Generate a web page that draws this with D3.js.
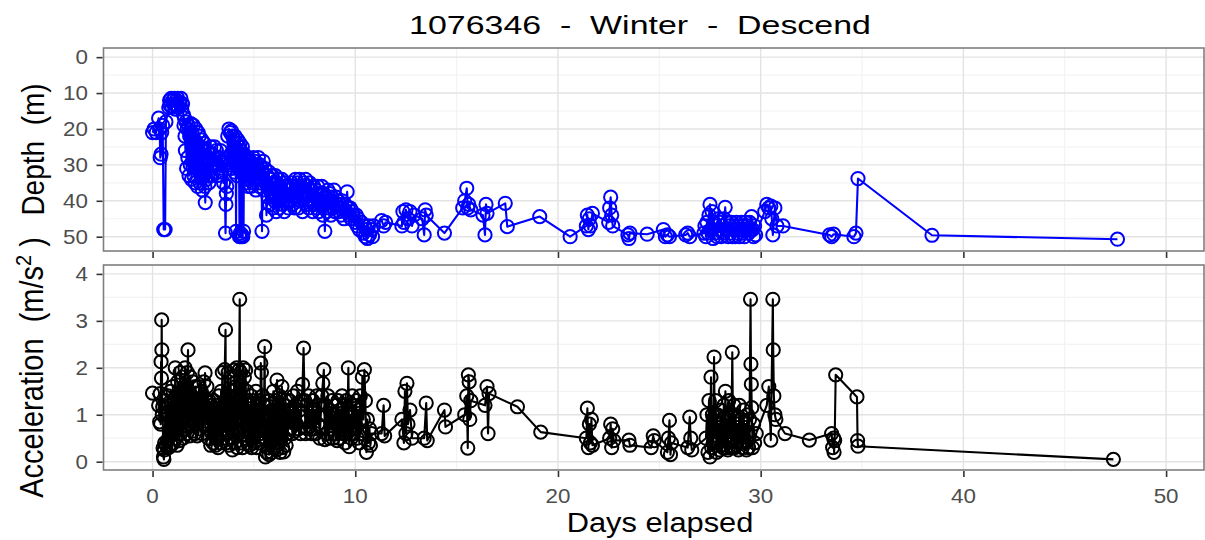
<!DOCTYPE html>
<html>
<head>
<meta charset="utf-8">
<script src="https://cdn.jsdelivr.net/npm/d3@7"></script>
<style>
  body { margin: 0; background: #fff; }
  svg { display: block; }
  text { font-family: "Liberation Sans", Arial, Helvetica, sans-serif; white-space: pre; }
</style>
</head>
<body>
<svg id="chart" width="1205" height="540"></svg>
<script>
// ---- labels and ticks ----
const titleText = "1076346  -  Winter  -  Descend";
const xTitle = "Days elapsed";
const depthTitle = "Depth  (m)";
const xTicks = [0, 10, 20, 30, 40, 50];
const xMinor = [5, 15, 25, 35, 45];
const depthTicks = [0, 10, 20, 30, 40, 50];
const depthMinor = [5, 15, 25, 35, 45];
const accelTicks = [0, 1, 2, 3, 4];
const accelMinor = [0.5, 1.5, 2.5, 3.5];

// ---- depth of each descent (m) ----
const depthDays = [
  0.00, 0.08, 0.18, 0.30, 0.35, 0.38, 0.42, 0.45, 0.50, 0.55, 0.62, 0.66,
  0.80, 0.84, 0.88, 0.92, 0.96, 1.00, 1.04, 1.08, 1.12, 1.16, 1.20, 1.24,
  1.28, 1.32, 1.36, 1.40, 1.44, 1.48, 1.52, 1.55, 1.58, 1.60,
  1.62, 1.65, 1.68, 1.71, 1.74, 1.77, 1.80, 1.83, 1.86, 1.89, 1.92, 1.95,
  1.98, 2.01, 2.04, 2.07, 2.10, 2.13, 2.16, 2.19, 2.22, 2.25, 2.28, 2.31,
  2.34, 2.37, 2.40, 2.43, 2.46, 2.49, 2.52, 2.55, 2.58, 2.60, 2.63, 2.66,
  2.69, 2.72, 2.75, 2.78, 2.81, 2.84, 2.87, 2.90,
  2.95, 3.00, 3.05, 3.10, 3.15, 3.20, 3.25, 3.30, 3.35, 3.40,
  3.45, 3.50, 3.55, 3.60, 3.62, 3.64, 3.66,
  3.68, 3.71, 3.74, 3.77, 3.80, 3.83, 3.86, 3.89, 3.92, 3.95, 3.98, 4.01,
  4.04, 4.07, 4.10, 4.12, 4.14, 4.17, 4.20, 4.23, 4.26, 4.29, 4.31, 4.33,
  4.35, 4.37, 4.39, 4.41, 4.43, 4.45, 4.47, 4.49, 4.51, 4.54, 4.57, 4.60,
  4.63, 4.66, 4.69, 4.72, 4.75, 4.78,
  4.82, 4.86, 4.90, 4.94, 4.98, 5.02, 5.06, 5.10, 5.14, 5.18, 5.22, 5.26,
  5.30, 5.34, 5.38, 5.40, 5.42, 5.46, 5.50, 5.54, 5.58, 5.62,
  5.66, 5.70, 5.74, 5.78, 5.82, 5.86, 5.90, 5.94, 5.98, 6.02, 6.06, 6.10,
  6.14, 6.18, 6.22, 6.26, 6.30, 6.34, 6.38, 6.42, 6.46, 6.50, 6.55, 6.60,
  6.65, 6.70, 6.75, 6.80, 6.85, 6.90,
  6.95, 7.00, 7.05, 7.10, 7.15, 7.20, 7.25, 7.30, 7.35, 7.40, 7.45, 7.50,
  7.55, 7.60, 7.65, 7.70, 7.75, 7.80, 7.85, 7.90, 7.95, 8.00,
  8.05, 8.10, 8.15, 8.20, 8.25, 8.30, 8.35, 8.40, 8.45, 8.50, 8.55, 8.60,
  8.65, 8.70, 8.75, 8.80, 8.85, 8.90, 8.95, 9.00, 9.05, 9.10,
  9.15, 9.20, 9.25, 9.30, 9.35, 9.40, 9.45, 9.50, 9.55, 9.60, 9.65, 9.70,
  9.75, 9.80, 9.85, 9.90, 10.00, 10.05, 10.10, 10.15, 10.20, 10.30, 10.40, 10.45,
  10.50, 10.55, 10.60, 10.65, 10.70, 10.80, 10.85, 10.90,
  11.30, 11.40, 11.50,
  12.30, 12.35, 12.40, 12.50, 12.60, 12.70, 12.80, 12.90,
  13.30, 13.40, 13.45, 13.50,
  14.40,
  15.30, 15.40, 15.50, 15.55, 15.60, 15.70,
  16.30, 16.40, 16.45, 16.50,
  17.40, 17.50,
  19.10,
  20.60,
  21.40, 21.45, 21.50, 21.55, 21.60, 21.70,
  22.50, 22.55, 22.60, 22.65, 22.70,
  23.45, 23.50, 23.55,
  24.40,
  25.20, 25.30, 25.40, 25.50,
  26.30, 26.40, 26.50,
  27.20, 27.25, 27.30, 27.35, 27.40, 27.45, 27.50, 27.55, 27.60, 27.65, 27.70, 27.75,
  27.80, 27.85, 27.90, 27.95, 28.00, 28.05, 28.10, 28.15, 28.20, 28.25, 28.30, 28.35,
  28.40, 28.45, 28.50, 28.55, 28.60, 28.65, 28.70, 28.75, 28.80, 28.85, 28.90, 28.95,
  29.00, 29.05, 29.10, 29.15, 29.20, 29.25, 29.30, 29.35, 29.40, 29.45, 29.50, 29.55,
  29.60, 29.65, 29.70, 29.75,
  30.20, 30.30, 30.40, 30.50, 30.55, 30.60, 30.70, 30.80, 31.10,
  33.40, 33.50, 33.60,
  34.60, 34.70, 34.80,
  38.45, 47.60
];
const depthMeters = [
  21, 20, 21, 17, 20, 28, 27, 21, 19, 48, 48, 18,
  14, 12, 13.5, 11.5, 14, 12, 13, 11.5, 14.5, 12, 13.5, 11.5,
  14, 12.5, 13, 11.5, 14.5, 13, 16, 19, 17, 22,
  26, 18, 31, 20, 28, 19, 33, 22, 30, 18.5, 34, 21,
  29, 19, 33, 23, 35, 20, 31, 24, 36, 21, 30, 22,
  35, 25, 33, 23, 37, 26, 32, 24, 36, 40.5, 29, 34,
  26, 33, 28, 35, 27, 31, 25, 33,
  27, 32, 25, 30, 26, 33, 28, 31, 26, 32,
  29, 35, 30, 49, 41, 38, 36,
  31, 22, 28, 20, 30, 21, 27, 20.5, 31, 22, 29, 23,
  32, 22, 30, 48.5, 24, 33, 23, 31, 25, 50, 24, 49,
  26, 50, 27, 49.5, 25, 50, 28, 48.5, 27, 33, 28, 35,
  29, 34, 28, 36, 30, 33,
  29, 36, 30, 35, 28, 34, 29, 37, 30, 33, 28, 36,
  30, 35, 31, 48.5, 32, 29, 37, 31, 35, 44,
  33, 39, 32, 41, 34, 38, 33, 42, 35, 40, 33, 43,
  35, 40, 34, 42, 36, 39, 34, 41, 36, 43, 35, 40,
  36, 42, 37, 40, 35, 41,
  36, 42, 34, 39, 35, 42, 34, 40, 36, 43, 35, 38,
  34, 41, 36, 42, 35, 40, 37, 43, 36, 41,
  37, 42, 36, 43, 38, 41, 36, 44, 38, 48.5, 39, 43,
  37, 42, 38, 44, 39, 42, 37, 43, 39, 41,
  40, 43, 41, 44, 40, 42, 45, 41, 43, 37.5, 42, 44,
  42, 45, 43, 44, 46, 44, 47, 45, 48, 46, 49, 47,
  50, 48, 50.5, 47, 49.5, 48, 50, 47,
  45.5, 47, 46,
  47, 43, 46, 42.5, 45, 43, 47, 44,
  45, 49.5, 42.5, 44,
  49,
  42, 40, 36.5, 42, 41, 42.5,
  44, 49.5, 41, 43.5,
  40.7, 47.2,
  44.4,
  50,
  47, 44, 48, 45, 47, 43.5,
  46, 42, 39, 44, 47,
  49.5, 50.5, 49,
  49.3,
  48, 50, 49.5, 50,
  49.5, 49, 50,
  49, 47, 50, 46, 49, 44, 41, 48, 43, 50.5, 46, 49,
  47, 50, 45, 48, 46, 50, 47, 49, 45, 41.8, 48, 46,
  50, 47, 49, 46, 50, 48, 47, 50, 46, 49, 47, 50,
  48, 46, 49, 47, 50, 46, 48, 47, 49, 46, 48, 44.4,
  48, 50, 47, 49.5,
  43, 41, 42, 41.5, 45, 49.5, 42, 47, 47,
  49.5, 50, 49.3,
  50, 49, 33.8,
  49.6, 50.7
];

// ---- peak acceleration of each descent (m/s^2) ----
const accelDays = [
  0.00, 0.30, 0.35, 0.38, 0.40, 0.42, 0.44, 0.45, 0.46, 0.48, 0.50, 0.52, 0.54, 0.56, 0.58, 0.60,
  0.64, 0.67, 0.70, 0.73, 0.76, 0.79, 0.82, 0.85, 0.88, 0.91, 0.94, 0.97,
  1.00, 1.03, 1.06, 1.09, 1.12, 1.15, 1.18, 1.21, 1.24, 1.27, 1.30, 1.33,
  1.36, 1.39, 1.42, 1.45, 1.48, 1.51, 1.54, 1.57, 1.60, 1.63, 1.66, 1.69,
  1.72, 1.75, 1.78, 1.81, 1.84, 1.87, 1.90, 1.93, 1.96, 1.99, 2.02, 2.05,
  2.08, 2.11, 2.14, 2.17, 2.20, 2.23, 2.26, 2.29, 2.32, 2.35, 2.38, 2.41,
  2.44, 2.47, 2.50, 2.53, 2.56, 2.59, 2.62, 2.65, 2.68, 2.71,
  2.75, 2.78, 2.81, 2.84, 2.87, 2.90, 2.93, 2.96, 2.99, 3.02, 3.05, 3.08,
  3.11, 3.14, 3.17, 3.20, 3.23, 3.26, 3.29, 3.32, 3.35, 3.38, 3.41, 3.44,
  3.47, 3.50, 3.53, 3.56, 3.60, 3.62, 3.64, 3.67,
  3.70, 3.73, 3.76, 3.79, 3.82, 3.85, 3.88, 3.91, 3.94, 3.97, 4.00, 4.03,
  4.06, 4.09, 4.12, 4.15, 4.18, 4.21, 4.24, 4.27, 4.30, 4.32, 4.35, 4.38,
  4.41, 4.44, 4.47, 4.50, 4.53, 4.56, 4.59, 4.62, 4.65, 4.68, 4.71, 4.74,
  4.77, 4.80, 4.83, 4.86, 4.89, 4.92, 4.95, 4.98, 5.01, 5.04, 5.07, 5.10,
  5.13, 5.16, 5.19, 5.22, 5.25, 5.28, 5.31, 5.34, 5.37, 5.40, 5.43, 5.46,
  5.50, 5.53, 5.55, 5.57, 5.60, 5.63,
  5.66, 5.69, 5.72, 5.75, 5.78, 5.81, 5.84, 5.87, 5.90, 5.93, 5.96, 5.99,
  6.02, 6.05, 6.08, 6.11, 6.14, 6.17, 6.20, 6.23, 6.26, 6.29, 6.32, 6.35,
  6.38, 6.41, 6.44, 6.47, 6.50, 6.53, 6.56, 6.59, 6.62, 6.65, 6.68, 6.71,
  6.75, 6.80, 6.85, 6.90, 6.95, 7.00, 7.05, 7.10, 7.15, 7.20, 7.25, 7.30,
  7.35, 7.40, 7.45, 7.50, 7.55, 7.60, 7.65, 7.70, 7.75, 7.80, 7.85, 7.90,
  7.95, 8.00, 8.05, 8.10, 8.15, 8.20, 8.25, 8.30,
  8.35, 8.40, 8.45, 8.50, 8.55, 8.60, 8.65, 8.70, 8.75, 8.80, 8.85, 8.90,
  8.95, 9.00, 9.05, 9.10, 9.15, 9.20, 9.25, 9.30, 9.35, 9.40,
  9.45, 9.50, 9.55, 9.60, 9.66, 9.70, 9.75, 9.80, 9.85, 9.90, 9.95, 10.00,
  10.05, 10.10, 10.15, 10.20, 10.25, 10.30, 10.35, 10.40, 10.45, 10.50, 10.55, 10.60,
  10.65, 10.70, 10.75, 10.80,
  11.30, 11.40, 11.45,
  12.30, 12.40, 12.45, 12.50, 12.55, 12.60, 12.70, 12.80,
  13.40, 13.50, 13.55,
  14.40, 14.45,
  15.40, 15.50, 15.55, 15.58, 15.62, 15.65, 15.70,
  16.40, 16.50, 16.55, 16.60,
  18.00, 19.15,
  21.40, 21.45, 21.50, 21.55, 21.60, 21.65, 21.70,
  22.55, 22.60, 22.65, 22.70, 22.75,
  23.50, 23.55,
  24.60, 24.70, 24.75,
  25.40, 25.45, 25.50, 25.55, 25.60,
  26.40, 26.50, 26.55, 26.60,
  27.30, 27.35, 27.40, 27.45, 27.50, 27.55, 27.58, 27.62, 27.66, 27.70, 27.74, 27.78,
  27.82, 27.86, 27.90, 27.94, 27.98, 28.02, 28.06, 28.10, 28.14, 28.18, 28.22, 28.26,
  28.30, 28.34, 28.38, 28.42, 28.46, 28.50, 28.55, 28.60, 28.64, 28.68, 28.72, 28.76,
  28.80, 28.85, 28.90, 28.95, 29.00, 29.05, 29.10, 29.15, 29.20, 29.25, 29.30, 29.35,
  29.40, 29.45, 29.50, 29.52, 29.54, 29.56, 29.60, 29.65, 29.70, 29.78,
  30.30, 30.40, 30.50, 30.60, 30.62, 30.65, 30.70, 30.75,
  31.20, 32.40,
  33.50, 33.55, 33.60, 33.62, 33.65, 33.70,
  34.75, 34.78, 34.80,
  47.40
];
const accelValues = [
  1.46, 1.20, 0.85, 1.45, 0.80, 2.13, 1.78, 3.02, 2.38, 1.00, 1.17, 0.29, 0.10, 0.05, 0.25, 0.40,
  1.30, 0.35, 1.00, 0.45, 1.40, 0.30, 1.20, 0.55, 1.50, 0.35, 1.10, 0.60,
  1.60, 0.40, 1.30, 0.70, 2.00, 0.50, 1.40, 0.35, 1.70, 0.80, 1.20, 0.45,
  1.90, 0.60, 1.50, 0.90, 1.80, 0.50, 1.30, 0.70, 2.00, 1.00, 1.60, 0.60,
  1.90, 2.38, 0.80, 1.50, 0.55, 1.80, 1.00, 1.40, 0.65, 1.70, 0.90, 1.30,
  0.60, 1.60, 0.80, 1.45, 0.55, 1.20, 0.90, 1.60, 0.70, 1.30, 1.00, 1.50,
  0.60, 1.20, 0.80, 1.70, 1.00, 1.89, 1.30, 0.80, 1.60, 1.00,
  0.50, 1.30, 0.70, 1.10, 0.35, 1.20, 0.60, 1.00, 0.40, 1.30, 0.70, 1.10,
  0.35, 1.20, 0.50, 0.90, 0.30, 1.40, 0.60, 1.00, 0.40, 1.50, 0.80, 1.90,
  0.50, 1.20, 0.70, 1.96, 2.81, 1.00, 0.40, 1.30,
  0.60, 1.90, 0.35, 1.40, 0.80, 1.80, 0.50, 1.50, 0.25, 1.20, 0.70, 1.95,
  0.40, 1.60, 0.90, 2.00, 0.30, 1.30, 0.60, 1.95, 3.46, 0.90, 1.90, 0.40,
  1.60, 0.30, 2.00, 0.70, 1.80, 0.50, 1.95, 0.80, 1.50, 0.40, 1.30, 1.00,
  0.35, 1.20, 0.60, 1.40, 0.30, 1.00, 0.50, 1.30, 0.40, 1.10, 0.60, 1.50,
  0.30, 1.20, 0.70, 1.00, 0.40, 1.30, 0.60, 2.10, 1.90, 0.70, 1.40, 0.50,
  1.20, 2.45, 0.50, 0.10, 0.90, 0.20,
  1.20, 0.30, 1.00, 0.15, 1.30, 0.40, 0.90, 0.20, 1.10, 0.50, 1.50, 0.30,
  1.00, 0.60, 1.30, 0.25, 1.74, 0.40, 1.20, 0.60, 1.40, 0.20, 1.10, 0.50,
  1.60, 0.30, 1.00, 0.21, 1.20, 0.50, 1.30, 0.35, 0.90, 0.60, 1.10, 0.70,
  1.30, 0.70, 1.10, 0.60, 1.40, 0.65, 1.20, 0.80, 1.50, 0.70, 1.10, 0.60,
  1.30, 1.65, 2.42, 1.30, 0.60, 1.20, 0.70, 1.40, 0.75, 1.10, 0.60, 1.30,
  0.70, 1.10, 0.60, 1.40, 0.80, 1.20, 0.50, 1.00,
  1.40, 1.67, 1.96, 0.47, 1.20, 0.60, 1.40, 0.50, 1.10, 0.70, 1.30, 0.50,
  1.00, 0.60, 1.20, 0.45, 1.30, 0.50, 1.10, 0.70, 1.40, 0.60,
  1.20, 0.40, 1.30, 0.60, 2.00, 0.32, 1.00, 0.50, 1.40, 0.60, 1.20, 0.70,
  1.30, 0.50, 1.10, 0.40, 1.40, 0.60, 1.80, 0.90, 1.96, 1.30, 0.20, 0.90,
  0.40, 0.70, 0.35, 0.60,
  0.60, 1.20, 0.55,
  0.90, 0.40, 1.50, 0.60, 1.67, 0.80, 1.10, 0.50,
  0.50, 1.25, 0.45,
  1.10, 0.74,
  1.00, 1.40, 0.29, 1.85, 1.70, 0.90, 1.30,
  1.20, 1.60, 0.60, 1.45,
  1.17, 0.63,
  0.50, 1.14, 0.30, 0.80, 0.40, 0.90, 0.35,
  0.50, 0.80, 0.30, 0.70, 0.45,
  0.46, 0.35,
  0.30, 0.55, 0.45,
  0.20, 0.50, 0.88, 0.15, 0.40,
  0.30, 0.95, 0.50, 0.25,
  0.50, 1.00, 0.20, 1.30, 0.10, 1.80, 0.30, 1.00, 0.40, 2.23, 0.50, 1.30,
  0.20, 1.00, 0.40, 0.80, 0.25, 1.10, 0.35, 0.90, 0.30, 1.20, 0.50, 1.50,
  0.30, 0.90, 0.25, 1.30, 0.50, 1.00, 0.30, 2.33, 0.50, 1.20, 0.30, 1.00,
  0.35, 0.80, 0.25, 1.20, 0.40, 0.90, 0.30, 1.10, 0.40, 0.80, 0.25, 1.00,
  0.30, 0.90, 3.46, 2.08, 1.65, 1.15, 0.30, 0.80, 0.40, 0.60,
  1.20, 1.60, 0.46, 3.46, 2.38, 1.40, 1.00, 0.90,
  0.60, 0.46,
  0.60, 0.30, 0.50, 0.20, 0.45, 1.85,
  1.38, 0.45, 0.33,
  0.05
];

// ---- layout ----
const svg = d3.select("#chart");
const panelLeft = 103.5, panelRight = 1204;
const topPanel = { y0: 48, y1: 251 };
const botPanel = { y0: 265, y1: 470 };

const x = d3.scaleLinear().domain([-2.42, 51.87]).range([panelLeft, panelRight]);
const yDepth = d3.scaleLinear().domain([-2.55, 53.98]).range([topPanel.y0, topPanel.y1]);
const yAccel = d3.scaleLinear().domain([-0.177, 4.19]).range([botPanel.y1, botPanel.y0]);

// text helper: glyphs slightly widened horizontally
function label(g, txt, px, py, opts) {
  const o = Object.assign({ size: 18, sx: 1.0, anchor: "middle", rotate: 0, fill: "#000" }, opts);
  const t = g.append("text")
    .attr("xml:space", "preserve")
    .attr("transform", `translate(${px},${py}) scale(${o.sx},1)` + (o.rotate ? ` rotate(${o.rotate})` : ""))
    .attr("text-anchor", o.anchor)
    .attr("font-size", o.size)
    .attr("fill", o.fill);
  if (typeof txt === "string") t.text(txt);
  else txt(t);
  return t;
}

function drawPanel(y, yTicks, yMinor, p, days, vals, color) {
  const g = svg.append("g");
  g.append("rect")
    .attr("x", panelLeft).attr("y", p.y0)
    .attr("width", panelRight - panelLeft).attr("height", p.y1 - p.y0)
    .attr("fill", "#fff");

  // minor grid
  g.selectAll(".gxm").data(xMinor).join("line")
    .attr("x1", d => x(d)).attr("x2", d => x(d))
    .attr("y1", p.y0).attr("y2", p.y1)
    .attr("stroke", "#f3f3f3").attr("stroke-width", 1.2);
  g.selectAll(".gym").data(yMinor).join("line")
    .attr("x1", panelLeft).attr("x2", panelRight)
    .attr("y1", d => y(d)).attr("y2", d => y(d))
    .attr("stroke", "#f3f3f3").attr("stroke-width", 1.2);
  // major grid
  g.selectAll(".gx").data(xTicks).join("line")
    .attr("x1", d => x(d)).attr("x2", d => x(d))
    .attr("y1", p.y0).attr("y2", p.y1)
    .attr("stroke", "#e3e3e3").attr("stroke-width", 1.4);
  g.selectAll(".gy").data(yTicks).join("line")
    .attr("x1", panelLeft).attr("x2", panelRight)
    .attr("y1", d => y(d)).attr("y2", d => y(d))
    .attr("stroke", "#e3e3e3").attr("stroke-width", 1.4);

  // data: connecting line, then open circles
  const pts = days.map((d, i) => [d, vals[i]]);
  const clip = "clip" + Math.round(p.y0);
  svg.append("clipPath").attr("id", clip).append("rect")
    .attr("x", panelLeft).attr("y", p.y0)
    .attr("width", panelRight - panelLeft).attr("height", p.y1 - p.y0);
  const dg = g.append("g").attr("clip-path", `url(#${clip})`);
  dg.append("path")
    .datum(pts)
    .attr("d", d3.line().x(d => x(d[0])).y(d => y(d[1])))
    .attr("fill", "none").attr("stroke", color).attr("stroke-width", 2.1)
    .attr("stroke-linejoin", "round");
  dg.selectAll("circle").data(pts).join("circle")
    .attr("cx", d => x(d[0])).attr("cy", d => y(d[1]))
    .attr("r", 6.6)
    .attr("fill", "none").attr("stroke", color).attr("stroke-width", 2);

  // border
  g.append("rect")
    .attr("x", panelLeft).attr("y", p.y0)
    .attr("width", panelRight - panelLeft).attr("height", p.y1 - p.y0)
    .attr("fill", "none").attr("stroke", "#7f7f7f").attr("stroke-width", 1.6);

  // y axis ticks + labels
  const ya = d3.axisLeft(y).tickValues(yTicks).tickSize(6);
  const yg = svg.append("g").attr("transform", `translate(${panelLeft - 1},0)`).call(ya);
  yg.select(".domain").remove();
  yg.selectAll(".tick line").attr("stroke", "#333").attr("stroke-width", 1.6);
  yg.selectAll(".tick text").remove();
  yTicks.forEach(v => label(svg, String(v), 88, y(v) + 7.2, { size: 20, sx: 1.12, anchor: "end", fill: "#4d4d4d" }));

  // x ticks below panel
  const xa = d3.axisBottom(x).tickValues(xTicks).tickSize(6);
  const xg = svg.append("g").attr("transform", `translate(0,${p.y1 + 1})`).call(xa);
  xg.select(".domain").remove();
  xg.selectAll(".tick line").attr("stroke", "#333").attr("stroke-width", 1.6);
  xg.selectAll(".tick text").remove();
}

drawPanel(yDepth, depthTicks, depthMinor, topPanel, depthDays, depthMeters, "#0000ff");
drawPanel(yAccel, accelTicks, accelMinor, botPanel, accelDays, accelValues, "#000000");

// x tick labels under the lower panel
xTicks.forEach(v => label(svg, String(v), x(v), 503, { size: 20, sx: 1.12, fill: "#4d4d4d" }));

// titles
label(svg, titleText, 640, 34, { size: 25.5, sx: 1.33 });
label(svg, xTitle, 660, 532, { size: 28, sx: 1.1 });
label(svg, depthTitle, 44, (topPanel.y0 + topPanel.y1) / 2, { size: 28, sx: 1.12, rotate: -90 });
label(svg, t => {
  t.append("tspan").text("Acceleration  (m/s");
  t.append("tspan").attr("baseline-shift", "super").attr("font-size", 20).text("2");
  t.append("tspan").text(" )");
}, 43, (botPanel.y0 + botPanel.y1) / 2, { size: 29, sx: 1.12, rotate: -90 });
</script>
</body>
</html>
